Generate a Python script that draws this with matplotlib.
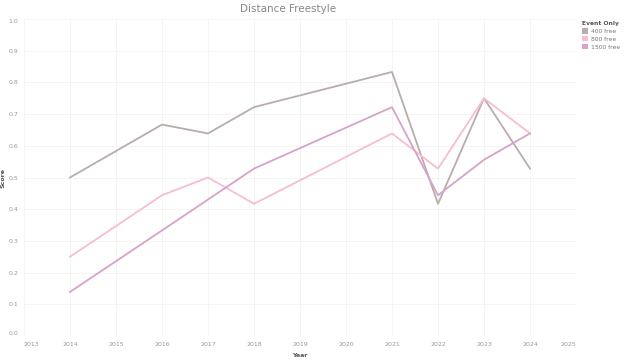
import matplotlib
matplotlib.use("Agg")
import matplotlib.pyplot as plt
from matplotlib.patches import Patch

years_400 = [2014, 2016, 2017, 2018, 2021, 2022, 2023, 2024]
score_400 = [0.500, 0.667, 0.639, 0.722, 0.833, 0.417, 0.750, 0.528]

years_800 = [2014, 2016, 2017, 2018, 2021, 2022, 2023, 2024]
score_800 = [0.250, 0.444, 0.500, 0.417, 0.639, 0.528, 0.750, 0.639]

years_1500 = [2014, 2016, 2018, 2021, 2022, 2023, 2024]
score_1500 = [0.139, 0.333, 0.528, 0.722, 0.444, 0.556, 0.639]

events = ["400 free", "800 free", "1500 free"]
colors = ["#b8adab", "#f7bdd0", "#d5a3cb"]

x_ticks = list(range(2013, 2026))
y_ticks = [i / 10 for i in range(11)]

fig = plt.figure(figsize=(6.4, 3.61), dpi=100)
ax = fig.add_axes([0.0375, 0.0693, 0.8625, 0.878])

ax.plot(years_400, score_400, color=colors[0], lw=1.3)
ax.plot(years_800, score_800, color=colors[1], lw=1.3)
ax.plot(years_1500, score_1500, color=colors[2], lw=1.3)

ax.set_xlim(2013, 2025)
ax.set_ylim(0, 1.0)
ax.set_xticks(x_ticks)
ax.set_xticklabels([str(y) for y in x_ticks])
ax.set_yticks(y_ticks)
ax.set_yticklabels([f"{v:.1f}" for v in y_ticks])
ax.tick_params(axis="both", length=0, labelsize=4.5, labelcolor="#999999", pad=4)
xl = ax.get_xticklabels()
xl[0].set_ha("left")
xl[-1].set_ha("right")
yl = ax.get_yticklabels()
yl[0].set_va("bottom")
yl[-1].set_va("top")
ax.grid(True, color="#f2f2f2", lw=0.6)
ax.set_axisbelow(True)
for s in ax.spines.values():
    s.set_visible(False)

ax.set_xlabel("Year", fontsize=4.5, color="#555555", fontweight="bold")
ax.xaxis.set_label_coords(0.5, -0.055)
ax.set_ylabel("Score", fontsize=4.5, color="#555555", fontweight="bold")
ax.yaxis.set_label_coords(-0.033, 0.5)

fig.text(0.45, 0.975, "Distance Freestyle", ha="center", va="center",
         fontsize=7.5, color="#888888")

handles = [Patch(facecolor=c, edgecolor="none") for c in colors]
leg = fig.legend(handles, events, loc="upper left", bbox_to_anchor=(0.905, 0.948),
                 frameon=False, fontsize=4.3, title="Event Only",
                 handlelength=1.0, handleheight=1.0, handletextpad=0.5,
                 labelspacing=0.35, borderaxespad=0)
leg.get_title().set_fontsize(4.3)
leg.get_title().set_fontweight("bold")
leg.get_title().set_color("#555555")
leg._legend_box.align = "left"
for t in leg.get_texts():
    t.set_color("#777777")

fig.savefig("out.png", dpi=100)
